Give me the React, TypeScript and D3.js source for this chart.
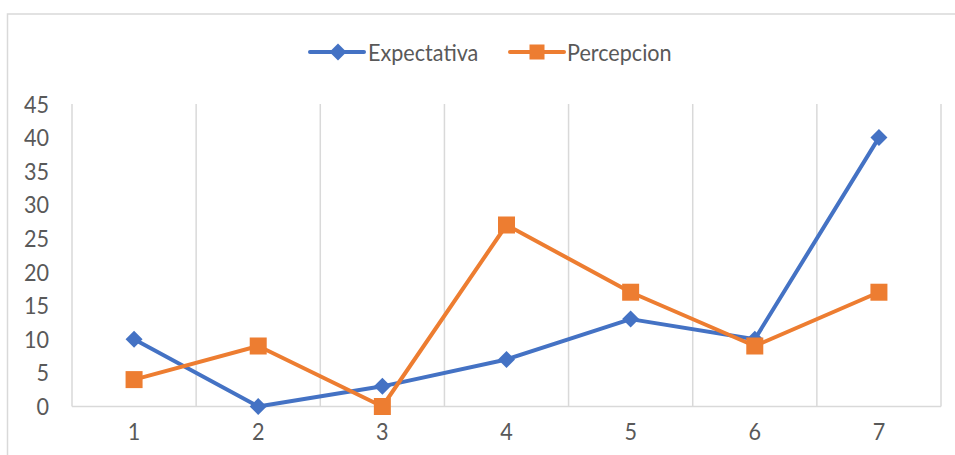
import React from "react";
import * as d3 from "d3";

const categories = ["1", "2", "3", "4", "5", "6", "7"];
const expectativa = [10, 0, 3, 7, 13, 10, 40];
const percepcion = [4, 9, 0, 27, 17, 9, 17];
const yTicks = [0, 5, 10, 15, 20, 25, 30, 35, 40, 45];

const W = 955;
const H = 455;
const plot = { left: 72, right: 941, top: 104, bottom: 406.5 };
const BLUE = "#4472C4";
const ORANGE = "#ED7D31";
const GRID = "#D9D9D9";
const TEXT = "#595959";
const FONT = "Lato, 'Open Sans', sans-serif";
const SX = 0.9;

function Label({ x, y, anchor, children, size = 24 }: any) {
  return (
    <text
      transform={`translate(${x},${y}) scale(${SX},1)`}
      textAnchor={anchor}
      fontFamily={FONT}
      fontSize={size}
      fill={TEXT}
    >
      {children}
    </text>
  );
}

function Diamond({ x, y, r = 8.5 }: any) {
  return (
    <path
      d={`M${x},${y - r}L${x + r},${y}L${x},${y + r}L${x - r},${y}Z`}
      fill={BLUE}
    />
  );
}

function Square({ x, y, s = 17 }: any) {
  return <rect x={x - s / 2} y={y - s / 2} width={s} height={s} fill={ORANGE} />;
}

export default function App() {
  const x = d3
    .scaleBand<string>()
    .domain(categories)
    .range([plot.left, plot.right]);
  const y = d3.scaleLinear().domain([0, 45]).range([plot.bottom, plot.top]);
  const cx = (c: string) => (x(c) as number) + x.bandwidth() / 2;

  const line = d3
    .line<number>()
    .x((_, i) => cx(categories[i]))
    .y((d) => y(d));

  const boundaries = categories.map((c) => x(c) as number).concat([plot.right]);

  return (
    <svg
      width={W}
      height={H}
      style={{ position: "absolute", left: 0, top: 0, background: "#fff" }}
    >
      <rect x={7.5} y={14} width={1200} height={1200} fill="#fff" stroke={GRID} strokeWidth={1.5} />

      {/* vertical gridlines at category boundaries */}
      {boundaries.map((bx, i) => (
        <line key={i} x1={bx} x2={bx} y1={plot.top} y2={plot.bottom} stroke={GRID} strokeWidth={1.5} />
      ))}
      <line x1={plot.left} x2={plot.right} y1={plot.bottom} y2={plot.bottom} stroke={GRID} strokeWidth={1.5} />

      {/* y-axis labels */}
      {yTicks.map((t) => (
        <Label key={t} x={49} y={y(t) + 8.5} anchor="end">
          {t}
        </Label>
      ))}

      {/* x-axis labels */}
      {categories.map((c) => (
        <Label key={c} x={cx(c)} y={440} anchor="middle">
          {c}
        </Label>
      ))}

      {/* Expectativa series */}
      <path d={line(expectativa) || ""} fill="none" stroke={BLUE} strokeWidth={4} strokeLinejoin="round" strokeLinecap="round" />
      {expectativa.map((v, i) => (
        <Diamond key={i} x={cx(categories[i])} y={y(v)} />
      ))}

      {/* Percepcion series */}
      <path d={line(percepcion) || ""} fill="none" stroke={ORANGE} strokeWidth={4} strokeLinejoin="round" strokeLinecap="round" />
      {percepcion.map((v, i) => (
        <Square key={i} x={cx(categories[i])} y={y(v)} />
      ))}

      {/* legend */}
      <line x1={310} x2={364} y1={52} y2={52} stroke={BLUE} strokeWidth={4} strokeLinecap="round" />
      <Diamond x={338} y={52} />
      <Label x={368} y={60.5} anchor="start">
        Expectativa
      </Label>
      <line x1={510} x2={564} y1={52} y2={52} stroke={ORANGE} strokeWidth={4} strokeLinecap="round" />
      <Square x={537} y={52} s={15} />
      <Label x={567} y={60.5} anchor="start">
        Percepcion
      </Label>
    </svg>
  );
}
